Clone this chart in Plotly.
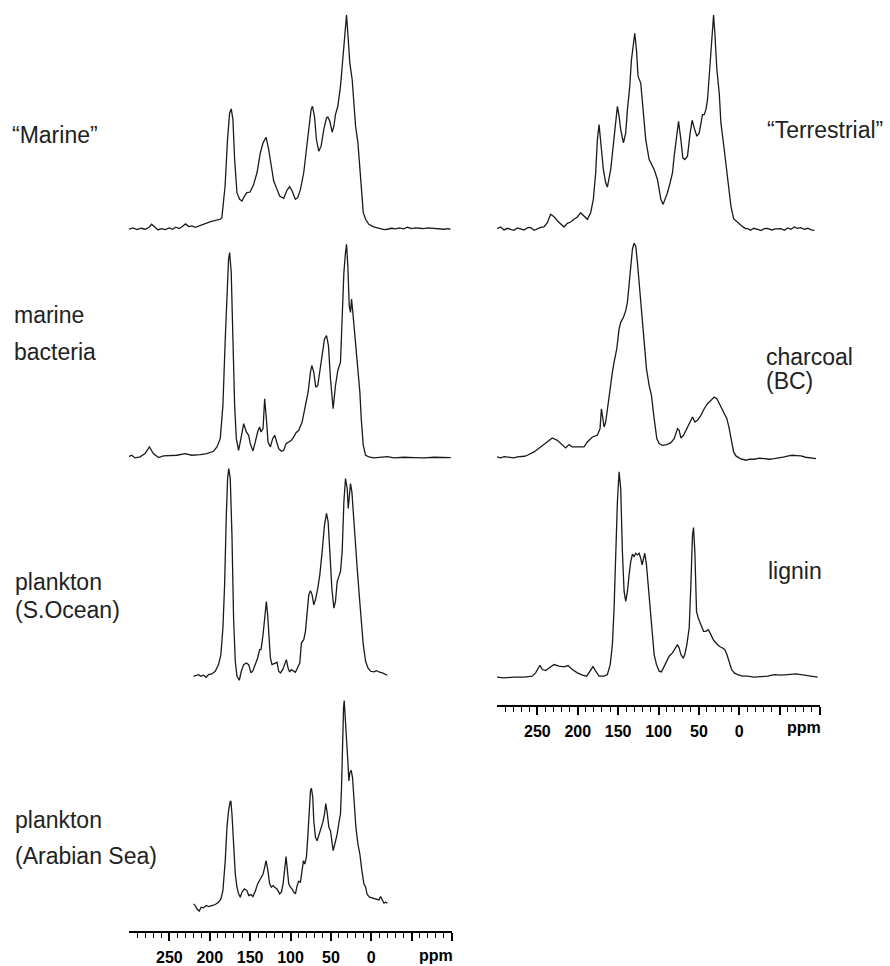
import plotly.graph_objects as go

# ---------------- data: chemical shift (ppm) and intensity (a.u.) ----------------
marine_ppm = [300, 295, 290, 285, 280, 275, 272, 268, 264, 260, 255, 250, 246, 242, 238, 234, 230, 226, 222, 218,
              214, 210, 206, 202, 198, 194, 190, 187, 185, 181, 178, 175.4, 173.4, 171.3, 169.2, 166.3, 163, 160,
              157, 154, 150, 145.6, 141.5, 137.4, 134, 130.3, 127, 124, 120.8, 116.7, 113.4, 108.4, 104.3, 101, 98,
              94, 91, 87.7, 83.6, 80.3, 77.4, 74.5, 72.8, 70.3, 67.9, 65, 62.1, 58.8, 55.4, 53.8, 51.3, 48.4, 46.3,
              44.3, 41.4, 38.1, 36, 33.9, 31.9, 30.6, 29, 26.5, 23.6, 21.5, 19.4, 16.5, 14.1, 12.4, 9.9, 7, 3, -3,
              -8, -12, -16, -20, -25, -30, -35, -40, -45, -50, -55, -60, -65, -70, -75, -80, -85, -90, -95, -98]
marine_int = [-2, 2, -3, 1, -2, 4, 13, 3, -4, 0, -3, 2, -2, 4, 0, 6, 14, 6, 8, 4,
              8, 10, 14, 18, 22, 24, 26, 28, 33, 128, 268, 348, 360, 328, 208, 108, 88, 83,
              98, 108, 110, 133, 168, 228, 258, 275, 238, 188, 143, 118, 98, 91, 116, 126, 113,
              88, 93, 118, 168, 238, 308, 358, 368, 338, 268, 233, 248, 298, 333, 336, 323, 290, 308,
              343, 368, 428, 488, 558, 628, 643, 588, 498, 448, 388, 308, 258, 188, 128, 48, 28, 13, 5,
              2, 0, -3, -2, 1, -1, 2, -1, 4, 0, 2, 1, 0, 2, 1, 0, -1, -2, 0, -2]

terrestrial_ppm = [299.7, 295.6, 291.4, 287, 283.2, 279, 274.9, 270, 266.6, 262, 258.4, 254, 250.1, 246, 241.8,
                   237.7, 233.6, 229.4, 225, 221.2, 217, 212.9, 208.8, 204.6, 200.5, 196.4, 192.2, 188.1, 184,
                   180.7, 177.8, 175.7, 173.6, 171.6, 168.3, 165.4, 163.3, 159.2, 155, 153, 150.9, 148.8, 146.8,
                   143.4, 140.6, 138.5, 135.6, 133.5, 131.5, 129.4, 127.3, 125.3, 122, 119.1, 115.8, 111.6, 108.7,
                   105.4, 101.3, 97.1, 94.3, 91.8, 88.9, 85.6, 82.7, 80.6, 77.3, 75.2, 72.3, 69.9, 67.4, 64.1,
                   60.8, 58.3, 55.8, 52.5, 49.6, 47.5, 45.5, 43.4, 41.3, 39.3, 37.2, 35.1, 33.1, 31.8, 30.2, 27.7,
                   24.8, 22.7, 18.6, 14.5, 10.3, 7, 2.9, 0, -4.1, -8, -10.3, -14, -18, -22.7, -27, -31, -35.1, -40,
                   -45, -51.7, -56, -60, -64, -68.2, -72, -76, -80.6, -85, -89, -93]
terrestrial_int = [2, 7, -2, 3, 0, -3, 4, 0, -2, 5, 5, -3, 2, 6, 7,
                   20, 45, 38, 25, 15, 7, 18, 22, 30, 37, 50, 40, 30, 50,
                   90, 170, 270, 315, 270, 180, 140, 127, 180, 270, 320, 370, 340, 300,
                   260, 290, 360, 430, 510, 560, 590, 540, 460, 440, 350, 270, 210, 195,
                   180, 150, 90, 75, 90, 110, 140, 170, 220, 290, 325, 270, 215, 210, 220,
                   290, 328, 305, 280, 290, 320, 345, 345, 360, 390, 460, 550, 620, 645, 590, 480,
                   410, 320, 240, 160, 70, 32, 22, 18, 8, 2, 2, -3, 3, 0, -4, 2, 3, -2,
                   1, 2, -3, 4, 0, 7, 3, 5, 0, 3, -2, -3]

bacteria_ppm = [300.8, 296.6, 292.5, 286.3, 280.1, 274.7, 269.8, 263.5, 257.3, 249.1, 240.8, 230.5, 222.2, 211.8,
                203.6, 195.3, 191.1, 187, 183.7, 180.8, 178.7, 176.7, 175.4, 173.4, 171.3, 169.2, 167.1, 164.3,
                161.4, 158, 154.7, 151.8, 149.8, 146.5, 143.6, 140.7, 138.2, 136.5, 134, 132, 129.9, 127.8, 124.9,
                122.1, 119.6, 117.5, 114.6, 111.3, 108.4, 105.5, 102.2, 98.9, 96, 93.1, 89.8, 85.6, 81.5, 78.2,
                75.3, 73.6, 71.2, 68.7, 66.2, 63.7, 60.8, 57.9, 55.4, 53, 50.5, 47.2, 44.3, 41.4, 38.1, 36, 33.9,
                31.9, 30.6, 29, 27.3, 25.7, 24.4, 22.8, 20.7, 18.2, 15.7, 14.1, 12.4, 9.9, 7, 2.9, -3.3, -11.6,
                -19.9, -28.1, -40.5, -53, -65.4, -77.8, -90.2, -98.5]
bacteria_int = [2, 7, -1, 2, 12, 32, 12, 0, 5, 5, 7, 12, 7, 9,
                12, 19, 32, 57, 157, 357, 507, 597, 617, 557, 357, 157, 57, 22,
                57, 102, 77, 67, 42, 20, 47, 77, 92, 77, 87, 177, 117, 47, 32,
                57, 67, 47, 27, 19, 22, 42, 47, 52, 62, 75, 82, 107, 157, 197,
                257, 277, 257, 212, 217, 257, 317, 357, 367, 337, 237, 147, 217, 262, 287, 407, 557,
                617, 642, 577, 457, 437, 477, 437, 377, 307, 237, 197, 117, 37, 7, 2, -1, 0,
                3, -1, 1, 0, -1, 1, 1, 0]

charcoal_ppm = [300, 295.6, 291, 287.3, 283, 279, 275, 270.8, 266, 262.5, 254.2, 246, 237.7, 231.5, 225.3, 219.1,
                215, 210.8, 206.7, 200.5, 192.2, 188.1, 181.9, 175.7, 172.4, 170.7, 169.1, 167.4, 165.4, 161.2,
                157.1, 155, 151.7, 148.8, 146.8, 143.4, 140.6, 138.5, 136.4, 134.4, 132.3, 130.2, 128.2, 126.1,
                123.2, 120.7, 117.8, 114.9, 111.6, 108.7, 105.4, 102.1, 99.2, 95.1, 89.7, 84.7, 80.6, 76.5, 74.4,
                72.3, 69, 64.9, 60.8, 57.9, 55, 51.7, 47.5, 43.4, 39.3, 35.1, 31, 27.7, 23.6, 19.4, 15.3, 12.4,
                9.5, 7, 4.1, -1.2, -8.3, -13, -18.6, -25, -31, -37, -43.4, -50, -55.8, -61, -66.1, -71, -76.5,
                -82, -86.8, -91, -95.1]
charcoal_int = [5, 2, 6, 5, 3, 2, 5, 5, 7, 10, 20, 35, 50, 62, 55, 40,
                32, 42, 35, 35, 35, 50, 65, 70, 90, 150, 120, 95, 110, 190,
                260, 290, 330, 390, 410, 425, 445, 470, 530, 590, 630, 648, 640, 590,
                510, 420, 340, 270, 220, 190, 120, 60, 45, 40, 42, 48, 60, 90, 85,
                62, 70, 90, 115, 125, 110, 115, 130, 150, 165, 175, 185, 180, 160, 140, 120, 90,
                50, 20, 8, 0, -5, -2, -2, 1, 0, -2, 0, 2, 5, 8, 10, 9, 8,
                4, 2, 0, 0]

socean_ppm = [220.1, 216.8, 213.9, 211, 207.7, 204.4, 201.5, 197.4, 193.2, 189.1, 186.2, 183.7, 181.6, 179.6,
              177.9, 176.5, 174.6, 172.5, 170.5, 168.4, 166.3, 163.4, 160.9, 158, 154.7, 151.8, 148.9, 146.5,
              143.6, 140.7, 138.2, 136.5, 134, 132, 129.9, 128.3, 126.6, 124.9, 122.9, 120.8, 118.7, 116.7,
              114.6, 112.5, 109.6, 107.2, 105.1, 103, 101, 98.9, 96.8, 93.9, 91, 88.5, 86.5, 83.6, 81.5, 79.4,
              77.4, 75.3, 73.2, 71.2, 69.1, 66.2, 63.7, 60.8, 57.9, 55.4, 53.4, 51.3, 48.8, 46.3, 44.3, 42.2,
              40.1, 38.1, 36, 33.9, 31.9, 29.8, 28.5, 26.9, 25.7, 24, 21.9, 19.9, 17.4, 14.9, 12.4, 9.9, 7, 4.1,
              0.8, -3.3, -6.6, -9.5, -13.7, -17.8, -19.9]
socean_int = [-5, -2, 0, -5, -2, -8, 0, 2, 10, 30, 60, 140, 270, 470,
              590, 620, 590, 420, 170, 40, -5, -17, 10, 30, 35, 30, 5, 12,
              30, 50, 75, 75, 120, 170, 220, 180, 100, 50, 30, 32, 35, 37,
              10, 5, 15, 30, 45, 20, 8, 15, 12, 7, 22, 35, 95, 105, 130, 190,
              240, 252, 240, 210, 225, 260, 300, 370, 450, 485, 460, 370, 260, 200, 220, 280,
              295, 310, 370, 520, 590, 560, 500, 550, 575, 550, 470, 420, 320, 240, 160, 90, 40, 20,
              10, 8, 12, 8, 5, 0, -2]

lignin_ppm = [300, 291.4, 279, 266.6, 256.3, 252.2, 246.8, 243.9, 239.8, 235.6, 229.4, 223.2, 217, 212.1, 206.7,
              200.5, 194.3, 188.9, 184.8, 181.1, 177.8, 173.6, 167.4, 163.3, 159.8, 157.1, 155, 153, 150.9,
              148.8, 146.8, 144.7, 142.6, 140.6, 138.5, 136.4, 134.4, 132.3, 130.2, 128.2, 126.1, 124, 122,
              120.3, 118.6, 117, 114.9, 112.4, 109.5, 107.5, 105.4, 102.5, 99.2, 96.3, 93, 89.7, 86.8, 82.7,
              79.8, 76.5, 74.4, 72.3, 69.4, 67.4, 64.9, 62, 59.9, 57.9, 56.6, 55, 52.9, 50.8, 47.5, 44.2, 41.3,
              38.4, 35.1, 32.2, 28.9, 24.8, 20.7, 17.8, 15.3, 12.4, 9.5, 6.2, 2.1, -4.1, -10.3, -18.6, -26.9,
              -35.1, -43.4, -51.7, -59.9, -70.3, -80.6, -93, -97.1]
lignin_int = [0, -2, 0, 0, 3, 13, 36, 23, 20, 28, 38, 33, 31, 35, 23,
              13, 6, 3, 18, 32, 18, 3, 3, 8, 38, 98, 208, 378, 528,
              618, 568, 378, 258, 228, 258, 308, 348, 370, 363, 373, 368, 373, 358,
              338, 358, 373, 338, 268, 208, 128, 68, 38, 18, 16, 33, 53, 63, 73,
              83, 98, 88, 68, 58, 68, 98, 148, 278, 428, 450, 378, 198, 178, 158, 138, 138,
              143, 128, 113, 103, 93, 88, 83, 68, 43, 23, 13, 8, 3, 3, 0, 2,
              3, 8, 6, 8, 10, 6, 2, 0]

arabian_ppm = [220.1, 218, 216, 213.1, 210.6, 207.7, 204.4, 201.5, 197.4, 193.2, 189.1, 186.2, 183.7, 180.8,
               178.7, 176.7, 174.6, 173.8, 172.5, 170.5, 168.4, 166.3, 164.3, 162.2, 160.1, 157.2, 153.9, 151.8,
               148.9, 146.5, 143.6, 140.7, 137.4, 134, 132, 130.3, 128.3, 125.8, 123.7, 121.6, 119.6, 116.7,
               113.4, 111.3, 109.2, 107.2, 105.5, 103.8, 102.2, 100.1, 98.1, 96, 93.9, 91.8, 89.8, 87.7, 85.6,
               84, 82.3, 80.3, 78.6, 77, 75.3, 74.1, 72.4, 71.2, 69.1, 67, 65, 62.1, 60, 57.9, 56.3, 54.6, 52.5,
               50.5, 48.4, 47.2, 45.1, 42.2, 39.7, 38.1, 36.8, 35.6, 34.3, 33.5, 32.3, 30.6, 29, 27.7, 26.5,
               24.8, 23.2, 21.5, 19, 16.5, 14.1, 11.6, 9.1, 7, 5, 2.1, -1.2, -5.4, -9.5, -11.6, -13.7, -15.7,
               -17.8, -19.9]
arabian_int = [-5, -10, -20, -27, -15, -17, -10, -13, -10, -7, 0, 10, 35, 125,
               225, 275, 303, 303, 265, 175, 85, 45, 25, 15, 30, 40, 35, 20,
               23, 17, 33, 55, 70, 85, 105, 125, 100, 55, 45, 50, 45, 40,
               25, 30, 55, 105, 137, 95, 55, 45, 40, 30, 25, 50, 63, 60, 95,
               125, 115, 135, 195, 275, 335, 343, 315, 245, 195, 185, 200, 225, 240, 265, 297, 270, 225,
               215, 165, 155, 175, 205, 245, 265, 345, 495, 585, 607, 565, 495, 425, 365, 390,
               397, 375, 315, 225, 175, 145, 95, 55, 45, 23, 15, 13, 10, 7, 17, 5, -3,
               0, -3]

sample_labels = {
    "marine": ["\u201cMarine\u201d"],
    "terrestrial": ["\u201cTerrestrial\u201d"],
    "bacteria": ["marine", "bacteria"],
    "charcoal": ["charcoal", "(BC)"],
    "socean": ["plankton", "(S.Ocean)"],
    "lignin": ["lignin"],
    "arabian": ["plankton", "(Arabian Sea)"],
}
major_ticks = [250, 200, 150, 100, 50, 0, -50, -100]
major_text = ["250", "200", "150", "100", "50", "0", "", ""]
minor_ticks = [v for v in range(290, -100, -10) if v % 50 != 0]

# ---------------- layout (pixel geometry) ----------------
W, H = 890, 966
UNITS_PER_PX = 3.0
BELOW_PX, ABOVE_PX = 20, 220

# key: (column, baseline y px, label x px, label line center y px)
panels = {
    "marine": ("L", 229.3, 10, [135]),
    "terrestrial": ("R", 230.0, 765, [130]),
    "bacteria": ("L", 459.0, 12, [316, 353]),
    "charcoal": ("R", 460.0, 764, [358, 382]),
    "socean": ("L", 676.7, 13, [584, 612]),
    "lignin": ("R", 679.3, 766, [573]),
    "arabian": ("L", 905.0, 13, [823, 859]),
}
series = {
    "marine": (marine_ppm, marine_int),
    "terrestrial": (terrestrial_ppm, terrestrial_int),
    "bacteria": (bacteria_ppm, bacteria_int),
    "charcoal": (charcoal_ppm, charcoal_int),
    "socean": (socean_ppm, socean_int),
    "lignin": (lignin_ppm, lignin_int),
    "arabian": (arabian_ppm, arabian_int),
}
col_x = {"L": ("x", "xaxis", [129 / W, 452 / W], 935), "R": ("x2", "xaxis2", [497 / W, 820 / W], 708)}

fig = go.Figure()
layout = dict(width=W, height=H, margin=dict(l=0, r=0, t=0, b=0),
              paper_bgcolor="white", plot_bgcolor="rgba(0,0,0,0)", showlegend=False)

tickfont = dict(family="Liberation Sans, Arial, sans-serif", size=16, color="black", weight="bold")
for c, (xref, xname, dom, ypx) in col_x.items():
    layout[xname] = dict(domain=dom, range=[300, -100], anchor="free", position=1 - ypx / H,
                         showline=True, linecolor="black", linewidth=1.5,
                         ticks="outside", ticklen=8, tickwidth=1.5, tickcolor="black",
                         tickmode="array", tickvals=major_ticks, ticktext=major_text,
                         tickfont=tickfont, ticklabelstandoff=3,
                         minor=dict(tickmode="array", tickvals=minor_ticks, ticks="outside",
                                    ticklen=5, tickwidth=1.2, tickcolor="black"),
                         showgrid=False, zeroline=False, fixedrange=True)

labelfont = dict(family="Liberation Sans, Arial, sans-serif", size=23, color="#222222")
annotations = []
for i, (key, (col, base, lx, lys)) in enumerate(panels.items()):
    ppm, inten = series[key]
    yname = "yaxis" if i == 0 else f"yaxis{i + 1}"
    yref = "y" if i == 0 else f"y{i + 1}"
    xref = col_x[col][0]
    fig.add_trace(go.Scatter(x=ppm, y=inten, mode="lines", xaxis=xref, yaxis=yref,
                             line=dict(color="#1a1a1a", width=1.3), hoverinfo="skip"))
    layout[yname] = dict(domain=[1 - (base + BELOW_PX) / H, 1 - (base - ABOVE_PX) / H],
                         range=[-BELOW_PX * UNITS_PER_PX, ABOVE_PX * UNITS_PER_PX],
                         anchor=xref, visible=False, fixedrange=True)
    for text, ly in zip(sample_labels[key], lys):
        annotations.append(dict(text=text, xref="paper", yref="paper",
                                x=lx / W, y=1 - ly / H, xanchor="left", yanchor="middle",
                                align="left", showarrow=False, font=labelfont))

for xref, ypx in (("x", 958), ("x2", 730)):
    annotations.append(dict(text="ppm", xref=xref, yref="paper", x=-80, y=1 - ypx / H,
                            xanchor="center", yanchor="middle", showarrow=False, font=tickfont))

layout["annotations"] = annotations
fig.update_layout(**layout)
fig.write_html("out.html")
